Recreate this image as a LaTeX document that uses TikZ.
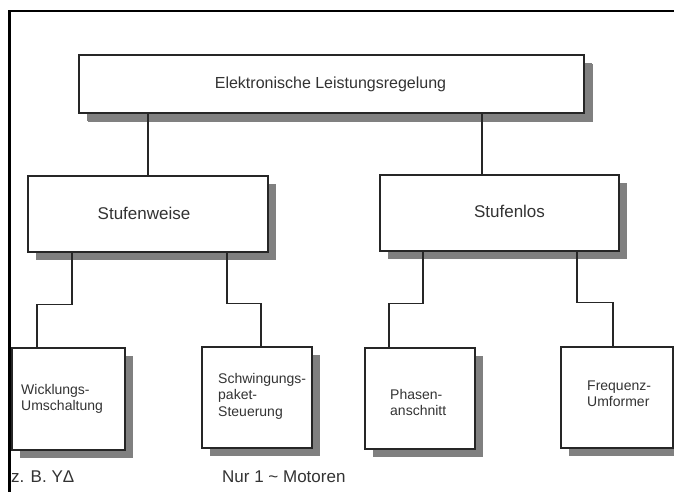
\documentclass[tikz,border=0pt]{standalone}
\usepackage{fontspec}
\setmainfont{Liberation Sans}
\usetikzlibrary{shadows,calc}
\begin{document}
\begin{tikzpicture}[x=1pt,y=-1pt,
  box/.style={draw=black!85, line width=1.1pt, fill=white, inner sep=0pt,
    drop shadow={shadow xshift=8pt, shadow yshift=-8pt, fill=black!50, opacity=1}},
  txt/.style={inner sep=0pt, text=black!80, align=left},
  bigtxt/.style={txt, font=\fontsize{17}{20}\selectfont},
  smalltxt/.style={txt, anchor=west, font=\fontsize{14}{16.5}\selectfont},
  conn/.style={draw=black!85, line width=1.1pt}]
\useasboundingbox (0,0) rectangle (674,492);
\fill[white] (0,0) rectangle (674,492);
\draw[line width=2.4pt] (9.5,500) -- (9.5,11) -- (690,11);

% boxes
\node[box, minimum width=505pt, minimum height=58pt,
  drop shadow={shadow xshift=9pt, shadow yshift=-9pt, fill=black!50, opacity=1}] (top) at (331.5,84) {};
\node[box, minimum width=240pt, minimum height=76pt] (stw) at (148,214) {};
\node[box, minimum width=239pt, minimum height=76pt] (stl) at (499.5,213) {};
\node[box, minimum width=113pt, minimum height=102pt] (b1) at (68.5,399) {};
\node[box, minimum width=110pt, minimum height=101pt] (b2) at (257,397.5) {};
\node[box, minimum width=110pt, minimum height=101pt] (b3) at (420,398.5) {};
\node[box, minimum width=112pt, minimum height=101pt] (b4) at (617,397.5) {};

% texts
\node[txt, font=\fontsize{16}{19}\selectfont] (ttop) at (330.5,84) {Elektronische Leistungsregelung};
\node[bigtxt] (tstw) at (144,213) {Stufenweise};
\node[bigtxt] (tstl) at (509.5,211) {Stufenlos};
\node[smalltxt] (tb1) at (21,399) {Wicklungs-\\Umschaltung};
\node[smalltxt] (tb2) at (218,396) {Schwingungs-\\paket-\\Steuerung};
\node[smalltxt] (tb3) at (390,402.5) {Phasen-\\anschnitt};
\node[smalltxt] (tb4) at (587,393.5) {Frequenz-\\Umformer};
\node[bigtxt, anchor=west] (zb) at (11,477) {z. B. YΔ};
\node[bigtxt, anchor=west] (nur) at (222,477) {Nur 1 \textasciitilde{} Motoren};

% connectors
\draw[conn] (top.south -| stw.north) -- (stw.north);
\draw[conn] ([xshift=-17.5pt]stl.north) -- ([xshift=-17.5pt]stl.north |- top.south);
\draw[conn] ([xshift=-76pt]stw.south) -- ++(0,52) -| ([xshift=-31.5pt]b1.north);
\draw[conn] ([xshift=79pt]stw.south) -- ++(0,51) -| ([xshift=4pt]b2.north);
\draw[conn] ([xshift=-76.5pt]stl.south) -- ++(0,52) -| ([xshift=-31pt]b3.north);
\draw[conn] ([xshift=77.5pt]stl.south) -- ++(0,51) -| ([xshift=-4pt]b4.north);
\end{tikzpicture}
\end{document}
